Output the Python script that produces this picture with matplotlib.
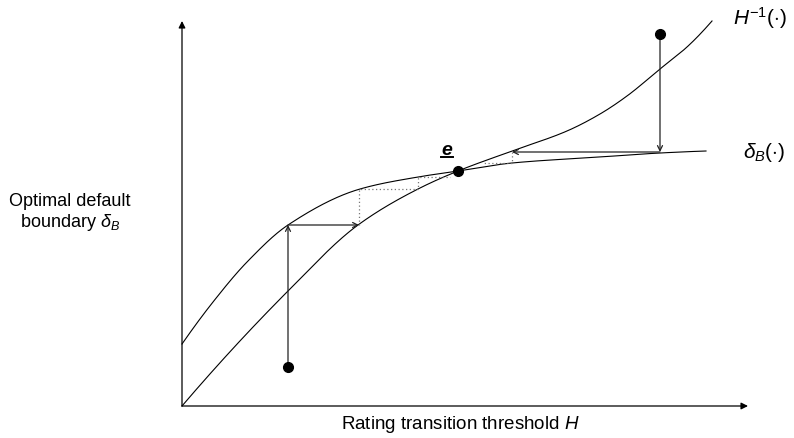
import numpy as np
import matplotlib
matplotlib.use("Agg")
import matplotlib.pyplot as plt

plt.rcParams['font.family'] = ['Liberation Sans', 'DejaVu Sans']
plt.rcParams['mathtext.fontset'] = 'custom'
plt.rcParams['mathtext.rm'] = 'Liberation Sans'
plt.rcParams['mathtext.it'] = 'Liberation Sans:italic'
plt.rcParams['mathtext.bf'] = 'Liberation Sans:bold'

# Curve samples (x = threshold H, y = default boundary), schematic units
delta_x = [0, 31, 65, 106, 178, 236, 276, 330, 418, 478, 524]
delta_y = [62, 104, 144, 181, 217, 229, 235, 243, 249, 253, 255]
hinv_x = [0, 106, 176, 236, 276, 330, 385, 418, 445, 478, 505, 530]
hinv_y = [0, 115, 181, 217, 235, 255, 275, 292, 310, 337, 359, 385]

# Equilibrium and starting points
eq_pt = (276, 235)
start_low = (106, 39)
start_high = (478, 372)

# Cobweb paths
left_arrows = [((106, 39), (106, 181)), ((106, 181), (177, 181))]
left_dotted_x = [177, 177, 236, 236, 268]
left_dotted_y = [181, 217, 217, 229, 229]
right_arrows = [((478, 372), (478, 254)), ((478, 254), (330, 254))]
right_dotted_x = [330, 330, 301]
right_dotted_y = [254, 243, 243]


def pchip(xs, ys, n=600):
    x = np.asarray(xs, float)
    y = np.asarray(ys, float)
    h = np.diff(x)
    d = np.diff(y) / h
    m = np.zeros_like(x)
    for k in range(1, len(x) - 1):
        if d[k - 1] * d[k] > 0:
            w1 = 2 * h[k] + h[k - 1]
            w2 = h[k] + 2 * h[k - 1]
            m[k] = (w1 + w2) / (w1 / d[k - 1] + w2 / d[k])
    m[0] = ((2 * h[0] + h[1]) * d[0] - h[0] * d[1]) / (h[0] + h[1])
    m[-1] = ((2 * h[-1] + h[-2]) * d[-1] - h[-1] * d[-2]) / (h[-1] + h[-2])
    xx = np.linspace(x[0], x[-1], n)
    idx = np.clip(np.searchsorted(x, xx) - 1, 0, len(x) - 2)
    t = (xx - x[idx]) / h[idx]
    h00 = 2 * t ** 3 - 3 * t ** 2 + 1
    h10 = t ** 3 - 2 * t ** 2 + t
    h01 = -2 * t ** 3 + 3 * t ** 2
    h11 = t ** 3 - t ** 2
    yy = (h00 * y[idx] + h10 * h[idx] * m[idx] +
          h01 * y[idx + 1] + h11 * h[idx] * m[idx + 1])
    return xx, yy


fig = plt.figure(figsize=(7.94, 4.39), dpi=100)
ax = fig.add_axes([0, 0, 1, 1])
ax.set_xlim(-182, 612)
ax.set_ylim(-32, 407)
ax.axis('off')

# axes with arrows
ax.annotate('', xy=(566, 0), xytext=(0, 0),
            arrowprops=dict(arrowstyle='-|>', lw=0.9, color='black',
                            mutation_scale=10, shrinkA=0, shrinkB=0))
ax.annotate('', xy=(0, 385), xytext=(0, 0),
            arrowprops=dict(arrowstyle='-|>', lw=0.9, color='black',
                            mutation_scale=10, shrinkA=0, shrinkB=0))

dx, dy = pchip(delta_x, delta_y)
hx, hy = pchip(hinv_x, hinv_y)
ax.plot(dx, dy, color='black', lw=0.8)
ax.plot(hx, hy, color='black', lw=0.8)

# dotted cobweb
ax.plot(left_dotted_x, left_dotted_y, color='#777777', lw=0.9, ls=(0, (1, 2)))
ax.plot(right_dotted_x, right_dotted_y, color='#777777', lw=0.9, ls=(0, (1, 2)))

for (a, b) in left_arrows + right_arrows:
    ax.annotate('', xy=b, xytext=a,
                arrowprops=dict(arrowstyle='->', lw=0.9, color='#222222',
                                mutation_scale=9, shrinkA=0, shrinkB=0))

for p in [eq_pt, start_low, start_high]:
    ax.plot(p[0], p[1], 'o', color='black', ms=7, zorder=5)

ax.text(265, 252, 'e', fontsize=14, fontstyle='italic', fontweight='bold',
        ha='center', va='baseline')
ax.plot([259, 271], [249.5, 249.5], color='black', lw=1.4)
ax.text(551, 389, r'$H^{-1}(\cdot)$', fontsize=15, ha='left', va='center')
ax.text(561, 255, r'$\delta_B(\cdot)$', fontsize=15, ha='left', va='center')
ax.text(-112, 194, 'Optimal default\nboundary $\\delta_B$', fontsize=13,
        ha='center', va='center', linespacing=1.15)
ax.text(278, -18, 'Rating transition threshold $H$', fontsize=13.5,
        ha='center', va='center')

fig.savefig('out.png', dpi=100)
